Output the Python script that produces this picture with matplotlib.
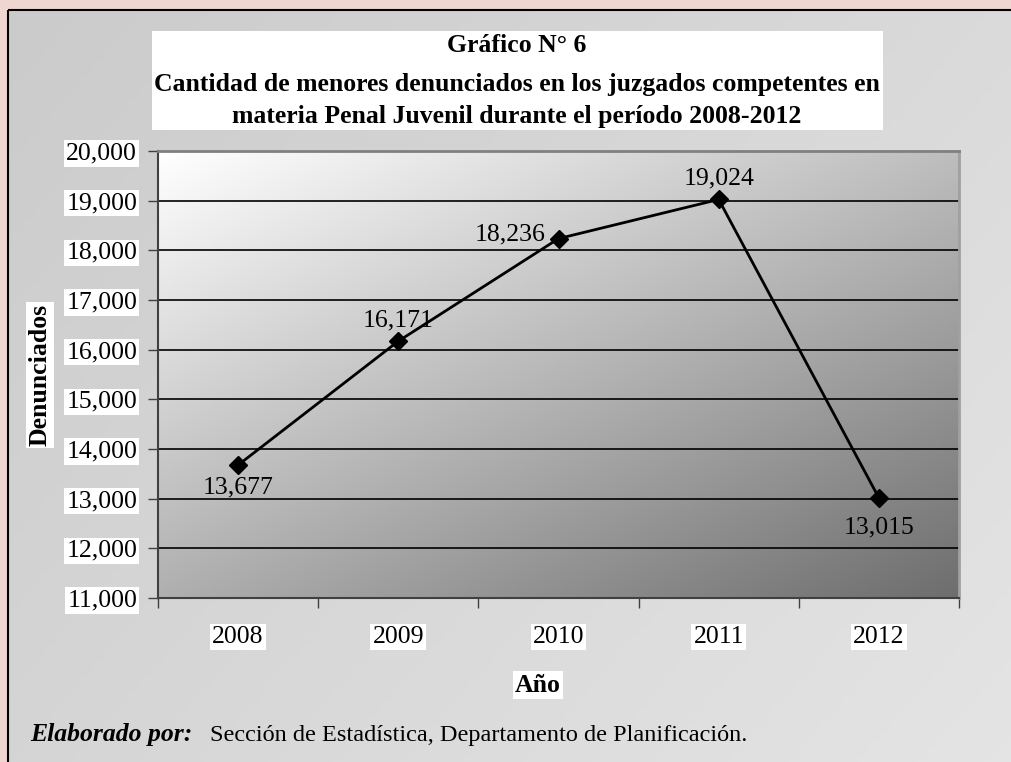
import numpy as np
import matplotlib
matplotlib.use("Agg")
import matplotlib.pyplot as plt
from matplotlib.patches import Rectangle
from matplotlib.colors import LinearSegmentedColormap

years = ["2008", "2009", "2010", "2011", "2012"]
values = [13677, 16171, 18236, 19024, 13015]
value_labels = ["13,677", "16,171", "18,236", "19,024", "13,015"]
yticks = [11000, 12000, 13000, 14000, 15000, 16000, 17000, 18000, 19000, 20000]

title_lines = ["Gráfico N° 6",
               "Cantidad de menores denunciados en los juzgados competentes en",
               "materia Penal Juvenil durante el período 2008-2012"]

plt.rcParams['font.family'] = ['Liberation Serif', 'DejaVu Serif']

W, H = 1011, 762
FS = 18.5
fig = plt.figure(figsize=(W/100, H/100), dpi=100)
fig.patch.set_facecolor('#efd6d1')

def fx(px): return px / W
def fy(py): return 1 - py / H

# panel background with gradient
bg = fig.add_axes([0, 0, 1, 1], zorder=0)
bg.set_axis_off()
gx, gy = np.meshgrid(np.linspace(0, 1, 200), np.linspace(0, 1, 200))
g = (gx * 0.6 + gy * 0.4)
cm_panel = LinearSegmentedColormap.from_list('p', ['#cbcbcb', '#e6e6e6'])
bg.imshow(g, cmap=cm_panel, extent=[8, W + 60, H + 60, 10], aspect='auto', zorder=1)
bg.add_patch(Rectangle((8, 10), W + 50, H + 50, fill=False, edgecolor='black', lw=1.5, zorder=2))
# title box
bg.add_patch(Rectangle((152, 31), 731, 99, facecolor='white', edgecolor='none', zorder=3))
bg.text(517, 46, title_lines[0], ha='center', va='center', fontsize=18.5, fontweight='bold', zorder=4)
bg.text(517, 84, title_lines[1], ha='center', va='center', fontsize=18.5, fontweight='bold', zorder=4)
bg.text(517, 116, title_lines[2], ha='center', va='center', fontsize=18.5, fontweight='bold', zorder=4)
# footer
bg.text(30, 735, "Elaborado por:", ha='left', va='center', fontsize=18.5,
        fontweight='bold', fontstyle='italic', zorder=4)
bg.text(210, 735, "Sección de Estadística, Departamento de Planificación.", ha='left',
        va='center', fontsize=17.5, zorder=4)
bg.set_xlim(0, W); bg.set_ylim(H, 0)

# main axes
ax = fig.add_axes([fx(158), fy(598), fx(959) - fx(158), fy(151) - fy(598)], zorder=2)
gx2, gy2 = np.meshgrid(np.linspace(0, 1, 200), np.linspace(0, 1, 200))
g2 = gx2 * 0.45 + gy2 * 0.55
cm_plot = LinearSegmentedColormap.from_list('q', ['#ffffff', '#6e6e6e'])
ax.imshow(g2, cmap=cm_plot, extent=[-0.5, 4.5, 11000, 20000], aspect='auto', zorder=0)
ax.set_xlim(-0.5, 4.5)
ax.set_ylim(11000, 20000)

for yv in yticks[1:-1]:
    ax.axhline(yv, color='black', lw=1.2, zorder=1)

x = np.arange(len(years))
ax.plot(x, values, color='black', lw=2, marker='D', markersize=9, zorder=3)

offsets = [(0.0, -450), (0.0, 420), (-0.3, 80), (0.0, 420), (0.0, -600)]
for xi, v, lab, (dx, dy) in zip(x, values, value_labels, offsets):
    ax.text(xi + dx, v + dy, lab, ha='center', va='center', fontsize=FS, zorder=4)

ax.set_yticks(yticks)
ax.set_yticklabels([f"{v:,}" for v in yticks], fontsize=FS)
ax.set_xticks(x)
ax.set_xticklabels(years, fontsize=FS)
ax.set_xticks(np.arange(-0.5, 5, 1), minor=True)
ax.tick_params(axis='x', which='major', length=0, pad=20)
ax.tick_params(axis='x', which='minor', length=7, width=1, color='#404040')
ax.tick_params(axis='y', length=7, width=1, color='#404040', pad=8)
for lbl in ax.get_yticklabels() + ax.get_xticklabels():
    lbl.set_bbox(dict(facecolor='white', edgecolor='none', pad=1.5))

ax.spines['left'].set_color('#404040'); ax.spines['left'].set_linewidth(1.5)
ax.spines['bottom'].set_color('#404040'); ax.spines['bottom'].set_linewidth(1.5)
ax.spines['top'].set_color('#808080'); ax.spines['top'].set_linewidth(2)
ax.spines['right'].set_color('#a0a0a0'); ax.spines['right'].set_linewidth(2)

fig.text(fx(40), fy(375), "Denunciados", rotation=90, ha='center', va='center',
         fontsize=FS, fontweight='bold',
         bbox=dict(facecolor='white', edgecolor='none', pad=1.5), zorder=5)
fig.text(fx(538), fy(685), "Año", ha='center', va='center', fontsize=FS, fontweight='bold',
         bbox=dict(facecolor='white', edgecolor='none', pad=1.5), zorder=5)

fig.savefig("out.png", dpi=100, facecolor=fig.get_facecolor())
